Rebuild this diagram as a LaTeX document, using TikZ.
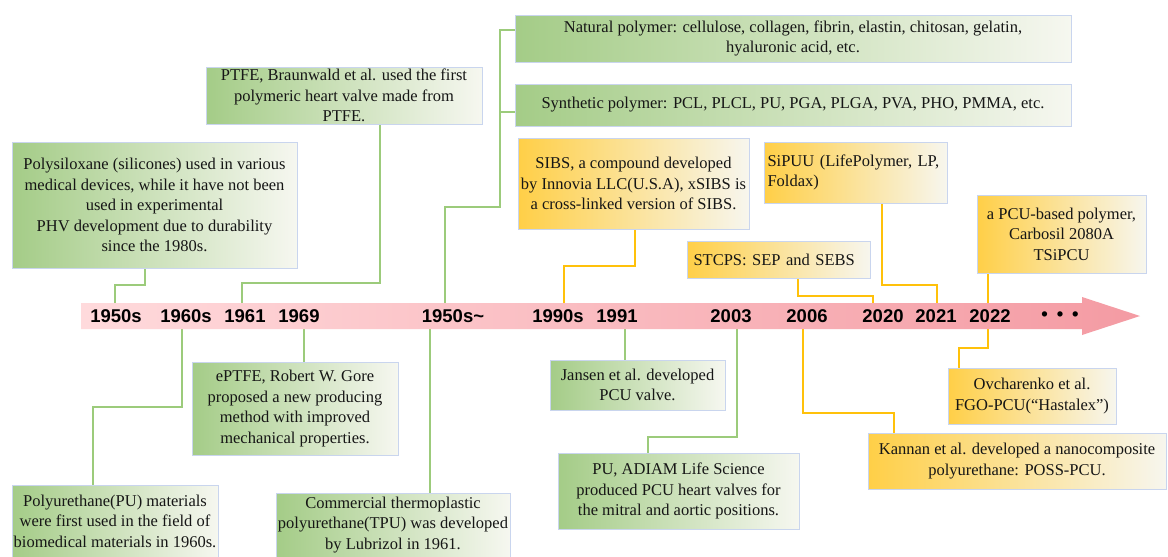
\documentclass[tikz,border=0pt]{standalone}
\usepackage{fontspec}
\setmainfont{Liberation Serif}
\newfontfamily\labfont{Liberation Sans}
\usetikzlibrary{calc}
\pgfdeclarelayer{bgl}
\pgfdeclarelayer{linkl}
\pgfdeclarelayer{barl}
\pgfsetlayers{bgl,linkl,barl,main}
\definecolor{gA}{HTML}{A4CC87}
\definecolor{gB}{HTML}{CFE3BE}
\definecolor{gC}{HTML}{F6F7F0}
\definecolor{yA}{HTML}{FFCF47}
\definecolor{yB}{HTML}{FFE6A0}
\definecolor{yC}{HTML}{F7F6EE}
\definecolor{bd}{HTML}{C9D5EE}
\definecolor{gline}{HTML}{9CCB7B}
\definecolor{yline}{HTML}{FFC10A}
\definecolor{barL}{HTML}{FFDADC}
\definecolor{barR}{HTML}{F49BA3}
\definecolor{txt}{HTML}{161616}
\begin{document}
\begin{tikzpicture}[x=1pt,y=-1pt,
  boxbase/.style={draw=bd, line width=0.9pt, align=center, inner sep=0pt, text=txt,
    font=\fontsize{16.5}{20.5}\selectfont},
  gbox/.style={boxbase, left color=gA, middle color=gB, right color=gC},
  ybox/.style={boxbase, left color=yA, middle color=yB, right color=yC},
  glink/.style={draw=gline, line width=2pt},
  ylink/.style={draw=yline, line width=2pt},
  lab/.style={font=\labfont\bfseries\fontsize{18.5}{20}\selectfont, text=black, inner sep=0pt}]
\useasboundingbox (0,0) rectangle (1168,557);
\begin{pgfonlayer}{bgl}
\fill[white] (0,0) rectangle (1168,557);
\end{pgfonlayer}

\coordinate (bartop) at (0,303);
\coordinate (barbot) at (0,329);

% ========== boxes ==========
\node[gbox, minimum width=285, minimum height=126] (poly) at (154.5,205) {Polysiloxane (silicones) used in various\\ medical devices, while it have not been\\ used in experimental\\ PHV development due to durability\\ since the 1980s.};
\node[gbox, minimum width=276, minimum height=57] (ptfe) at (344,95.5) {PTFE, Braunwald et al. used the first\\ polymeric heart valve made from\\ PTFE.};
\node[gbox, minimum width=556, minimum height=47] (nat) at (793,38.5) {Natural polymer: cellulose, collagen, fibrin, elastin, chitosan, gelatin,\\ hyaluronic acid, etc.};
\node[gbox, minimum width=556, minimum height=42] (syn) at (793,105) {Synthetic polymer: PCL, PLCL, PU, PGA, PLGA, PVA, PHO, PMMA, etc.};
\node[ybox, minimum width=231, minimum height=91] (sibs) at (633.5,183.5) {SIBS, a compound developed\\ by Innovia LLC(U.S.A), xSIBS is\\ a cross-linked version of SIBS.};
\node[ybox, minimum width=183, minimum height=61, align=left, text width=176] (sipuu) at (855.5,172.5) {SiPUU (LifePolymer, LP,\\ Foldax)};
\node[ybox, minimum width=183, minimum height=37, align=left, text width=170] (stcps) at (778.5,259.5) {STCPS: SEP and SEBS};
\node[ybox, minimum width=169, minimum height=78] (pcu) at (1061.5,234) {a PCU-based polymer,\\ Carbosil 2080A\\ TSiPCU};
\node[ybox, minimum width=168, minimum height=56] (ovch) at (1032,396) {Ovcharenko et al.\\ FGO-PCU(“Hastalex”)};
\node[ybox, minimum width=298, minimum height=56] (kann) at (1017,461) {Kannan et al. developed a nanocomposite\\ polyurethane: POSS-PCU.};
\node[gbox, minimum width=175, minimum height=50] (jans) at (637.5,385) {Jansen et al. developed\\ PCU valve.};
\node[gbox, minimum width=241, minimum height=76] (adiam) at (678.5,491) {PU, ADIAM Life Science\\ produced PCU heart valves for\\ the mitral and aortic positions.};
\node[gbox, minimum width=206, minimum height=93] (eptfe) at (295,408.5) {ePTFE, Robert W. Gore\\ proposed a new producing\\ method with improved\\ mechanical properties.};
\node[gbox, minimum width=206, minimum height=72] (pu) at (115,521) {Polyurethane(PU) materials\\ were first used in the field of\\ biomedical materials in 1960s.};
\node[gbox, minimum width=234, minimum height=64] (tpu) at (393,525) {Commercial thermoplastic\\ polyurethane(TPU) was developed\\ by Lubrizol in 1961.};

% ========== timeline labels ==========
\node[lab] (l1950s) at (116,316) {1950s};
\node[lab] (l1960s) at (186,316) {1960s};
\node[lab] (l1961) at (245,316) {1961};
\node[lab] (l1969) at (299,316) {1969};
\node[lab] (l1950t) at (453,316) {1950s\char"7E};
\node[lab] (l1990s) at (558,316) {1990s};
\node[lab] (l1991) at (617,316) {1991};
\node[lab] (l2003) at (731,316) {2003};
\node[lab] (l2006) at (807,316) {2006};
\node[lab] (l2020) at (883,316) {2020};
\node[lab] (l2021) at (936,316) {2021};
\node[lab] (l2022) at (990,316) {2022};
\node[lab] (ldots) at (1060,316) {•\hspace{9pt}•\hspace{9pt}•};

% ========== bar ==========
\begin{pgfonlayer}{barl}
\shade[left color=barL, right color=barR] (81,303) -- (1082,303) -- (1082,297) -- (1140,316)
  -- (1082,335) -- (1082,329) -- (81,329) -- cycle;
\end{pgfonlayer}

% ========== links ==========
\coordinate (kA) at (500,30);
\coordinate (kB) at (500,112);
\coordinate (kC) at (500,207);
\coordinate (kD) at (445,207);
\coordinate (k60) at (93,407);
\coordinate (k60s) at (182,329);
\coordinate (k69) at (304,329);
\coordinate (kT) at (430,329);
\coordinate (k91) at (625,329);
\coordinate (k03s) at (737,329);
\coordinate (k03) at (648,437);
\coordinate (k06s) at (803,329);
\coordinate (k06) at (894,413);
\coordinate (k22) at (959,348);
\coordinate (k90) at (564,266);
\coordinate (k20) at (873,296);
\coordinate (k21) at (937,285);
\coordinate (k50) at (115,285);
\coordinate (k61) at (242,283);
\begin{pgfonlayer}{linkl}
\path[glink] ([xshift=-9.5pt]poly.south) |- (k50) -- (k50 |- bartop);
\path[glink] ([xshift=36pt]ptfe.south) |- (k61) -- (k61 |- bartop);
\path[glink] (nat.west |- kA) -- (kA) -- (kC) -- (kD) -- (kD |- bartop);
\path[glink] (syn.west |- kB) -- (kB);
\path[glink] (k60s) |- (k60) -- (k60 |- pu.north);
\path[glink] (k69) -- (k69 |- eptfe.north);
\path[glink] (kT) -- (kT |- tpu.north);
\path[glink] (k91) -- (k91 |- jans.north);
\path[glink] (k03s) |- (k03) -- (k03 |- adiam.north);
\path[ylink] ([xshift=1.5pt]sibs.south) |- (k90) -- (k90 |- bartop);
\path[ylink] (k06s) |- (k06) -- (k06 |- kann.north);
\path[ylink] ([xshift=19.5pt]stcps.south) |- (k20) -- (k20 |- bartop);
\path[ylink] ([xshift=26.5pt]sipuu.south) |- (k21) -- (k21 |- bartop);
\path[ylink] ([xshift=-73.5pt]pcu.south) -- ([xshift=-73.5pt]pcu.south |- k22) -- (k22) -- (k22 |- ovch.north);
\end{pgfonlayer}
\end{tikzpicture}
\end{document}
